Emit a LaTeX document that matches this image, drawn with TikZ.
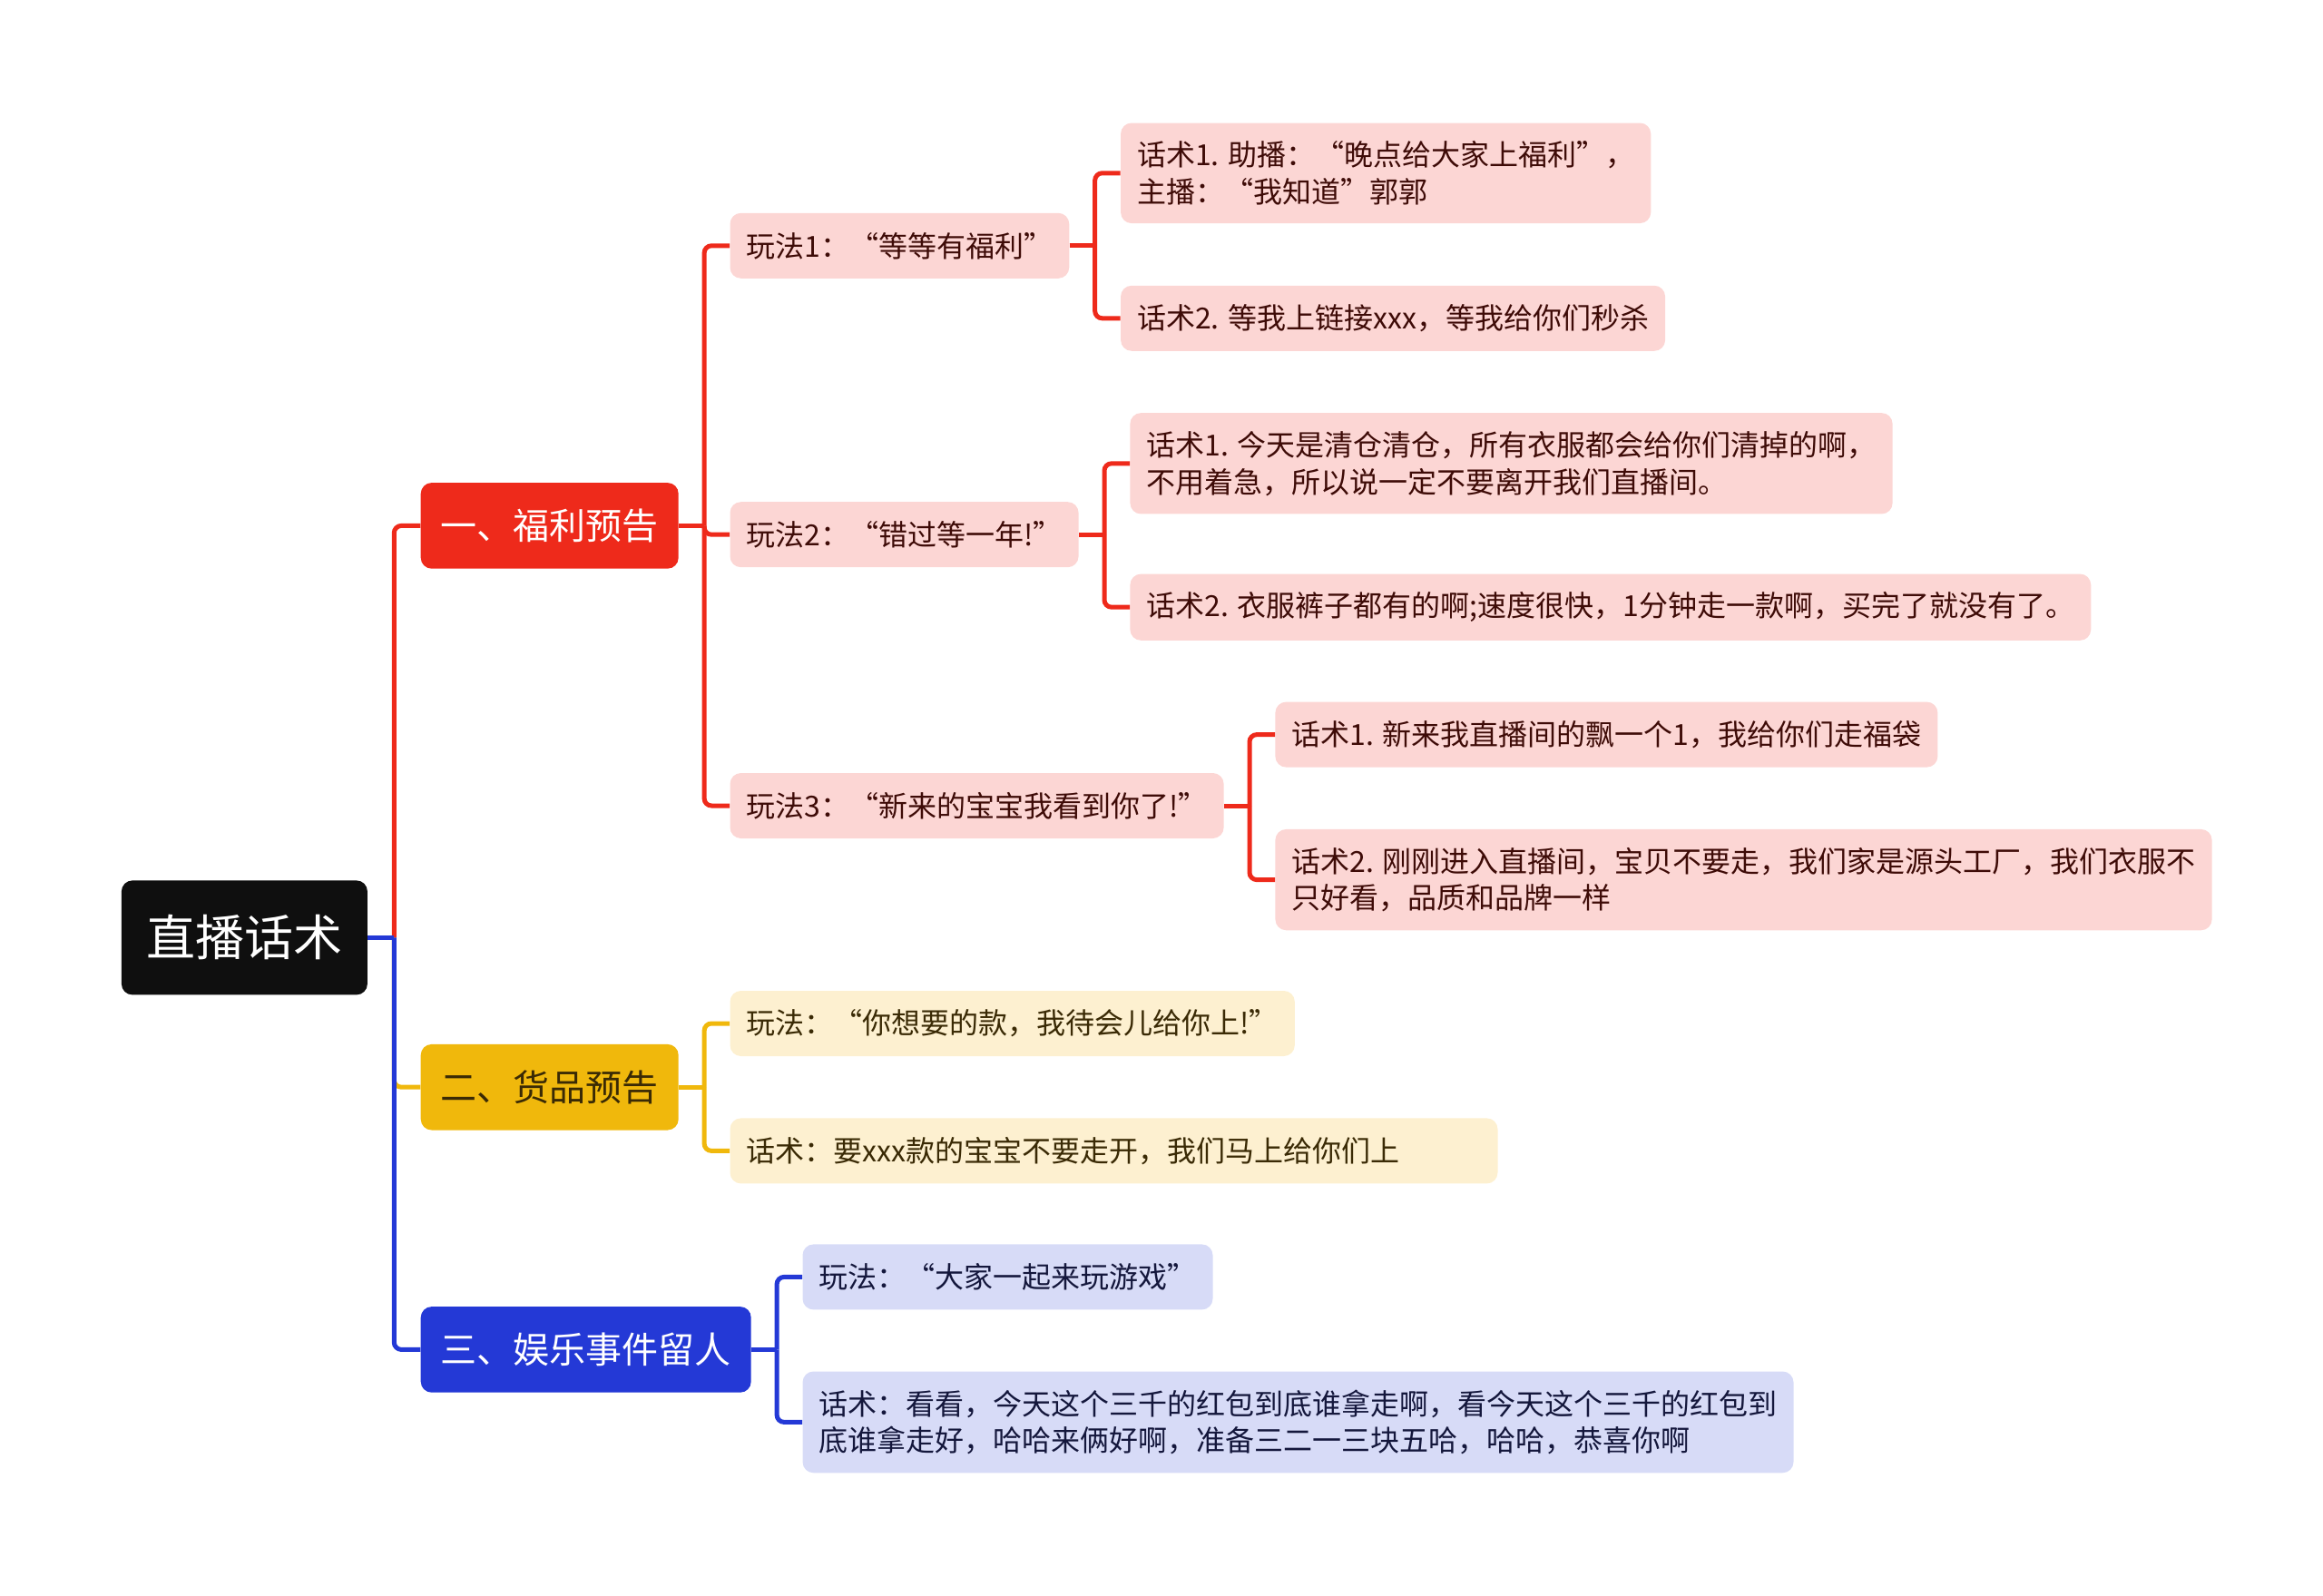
\documentclass[tikz,border=0pt]{standalone}
\usepackage{fontspec}
\setmainfont{Noto Sans CJK SC}
\usetikzlibrary{positioning}

\definecolor{redmain}{HTML}{EE2A1B}
\definecolor{yellowmain}{HTML}{F0B80C}
\definecolor{bluemain}{HTML}{2439D6}
\definecolor{redsoft}{HTML}{FCD6D4}
\definecolor{yellowsoft}{HTML}{FDF0D0}
\definecolor{bluesoft}{HTML}{D7DBF7}
\definecolor{redink}{HTML}{3E0B07}
\definecolor{yellowink}{HTML}{3A2A05}
\definecolor{blueink}{HTML}{14173C}

\tikzstyle{central} = [rectangle,
rounded corners=6pt,
minimum width=135.5pt,
minimum height=63pt,
fill=black!94,
text=white,
font=\fontsize{27}{32}\selectfont]
\tikzstyle{topic} = [rectangle,
rounded corners=6pt,
minimum height=47.3pt,
inner xsep=11pt,
font=\fontsize{20}{24}\selectfont]
\tikzstyle{idea} = [rectangle,
rounded corners=6pt,
minimum height=36pt,
inner xsep=9pt,
inner ysep=10pt,
align=left,
font=\fontsize{16}{20.4}\selectfont]
\tikzstyle{rline} = [line width=2.5pt, draw=redmain, rounded corners=4pt]
\tikzstyle{yline} = [line width=2.5pt, draw=yellowmain, rounded corners=4pt]
\tikzstyle{bline} = [line width=2.5pt, draw=bluemain, rounded corners=4pt]

\begin{document}
\begin{tikzpicture}[node distance=28pt]

\useasboundingbox (-134.7pt,-362.4pt) rectangle (1145.3pt,516.7pt);

\node (root) [central] {直播话术};

\node (sec1) [topic, fill=redmain, text=white, right=29pt of root, yshift=227pt] {一、福利预告};
\node (sec2) [topic, fill=yellowmain, text=yellowink, right=29pt of root, yshift=-82.4pt] {二、货品预告};
\node (sec3) [topic, fill=bluemain, text=white, right=29pt of root, yshift=-227pt] {三、娱乐事件留人};

\node (play1) [idea, fill=redsoft, text=redink, right=of sec1, yshift=154.3pt] {玩法1：“等等有福利”};
\node (play2) [idea, fill=redsoft, text=redink, right=of sec1, yshift=-4.9pt] {玩法2：“错过等一年!”};
\node (play3) [idea, fill=redsoft, text=redink, right=of sec1, yshift=-154.3pt] {玩法3：“新来的宝宝我看到你了!”};

\node (talk1a) [idea, fill=redsoft, text=redink, right=of play1, yshift=40pt] {话术1. 助播：“晚点给大家上福利”，\\主播：“我知道”郭郭};
\node (talk1b) [idea, fill=redsoft, text=redink, right=of play1, yshift=-40pt] {话术2. 等我上链接xxx，等我给你们秒杀};
\node (talk2a) [idea, fill=redsoft, text=redink, right=of play2, yshift=39.2pt] {话术1. 今天是清仓清仓，所有衣服都会给你们清掉的啊，\\不用着急，所以说一定不要离开我们直播间。};
\node (talk2b) [idea, fill=redsoft, text=redink, right=of play2, yshift=-40pt] {话术2. 衣服裤子都有的啊;速度很快，1分钟走一款啊，买完了就没有了。};
\node (talk3a) [idea, fill=redsoft, text=redink, right=of play3, yshift=39.2pt] {话术1. 新来我直播间的飘一个1，我给你们走福袋};
\node (talk3b) [idea, fill=redsoft, text=redink, right=of play3, yshift=-40.8pt] {话术2. 刚刚进入直播间，宝贝不要走，我们家是源头工厂，我们衣服不\\只好看，品质和品牌一样};

\node (goods1) [idea, fill=yellowsoft, text=yellowink, right=of sec2, yshift=35.1pt] {玩法：“你想要的款，我待会儿给你上!”};
\node (goods2) [idea, fill=yellowsoft, text=yellowink, text width=405pt, right=of sec2, yshift=-35.1pt] {话术：要xxx款的宝宝不要走开，我们马上给你们上};

\node (fun1) [idea, fill=bluesoft, text=blueink, right=of sec3, yshift=40pt] {玩法：“大家一起来玩游戏”};
\node (fun2) [idea, fill=bluesoft, text=blueink, right=of sec3, yshift=-40pt] {话术：看看，今天这个三千的红包到底谁拿走啊，看今天这个三千的红包到\\底谁拿走好，哈哈来俩好啊，准备三二一三块五哈，哈哈，恭喜你啊};

\coordinate (rootj) at ([xshift=14.5pt]root.east);
\coordinate (sec1j) at ([xshift=14pt]sec1.east);
\coordinate (sec2j) at ([xshift=14pt]sec2.east);
\coordinate (sec3j) at ([xshift=14pt]sec3.east);
\coordinate (play1j) at ([xshift=14pt]play1.east);
\coordinate (play2j) at ([xshift=14pt]play2.east);
\coordinate (play3j) at ([xshift=14pt]play3.east);

\draw [yline] (rootj) |- (sec2.west);
\draw [rline] (rootj) |- (sec1.west);
\draw [bline] (root.east) -- (rootj);
\draw [bline] (rootj) |- (sec3.west);

\draw [rline] (sec1.east) -- (sec1j);
\draw [rline] (sec1j) |- (play1.west);
\draw [rline] (sec1j) |- (play2.west);
\draw [rline] (sec1j) |- (play3.west);

\draw [rline] (play1.east) -- (play1j);
\draw [rline] (play1j) |- (talk1a.west);
\draw [rline] (play1j) |- (talk1b.west);
\draw [rline] (play2.east) -- (play2j);
\draw [rline] (play2j) |- (talk2a.west);
\draw [rline] (play2j) |- (talk2b.west);
\draw [rline] (play3.east) -- (play3j);
\draw [rline] (play3j) |- (talk3a.west);
\draw [rline] (play3j) |- (talk3b.west);

\draw [yline] (sec2.east) -- (sec2j);
\draw [yline] (sec2j) |- (goods1.west);
\draw [yline] (sec2j) |- (goods2.west);

\draw [bline] (sec3.east) -- (sec3j);
\draw [bline] (sec3j) |- (fun1.west);
\draw [bline] (sec3j) |- (fun2.west);

\end{tikzpicture}
\end{document}
